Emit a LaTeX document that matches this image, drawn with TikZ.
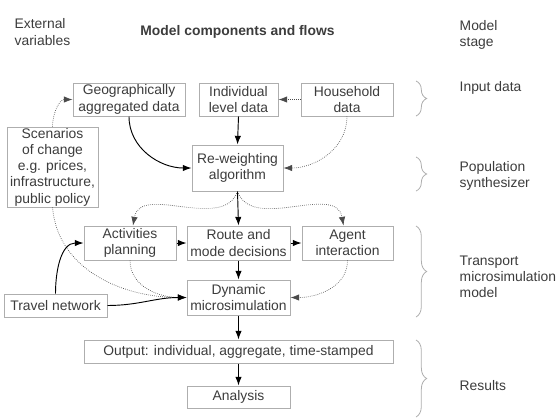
\documentclass[tikz,border=0pt]{standalone}
\usepackage{fontspec}
\setmainfont{Liberation Sans}
\usetikzlibrary{arrows.meta,decorations.pathreplacing}
\definecolor{txtgray}{HTML}{3C3C3C}
\definecolor{boxgray}{HTML}{AEAEAE}
\definecolor{dotgray}{HTML}{4A4A4A}

\begin{document}
\begin{tikzpicture}[x=0.75pt, y=-0.75pt,
  font=\fontsize{10.4}{12.2}\selectfont, text=txtgray,
  box/.style={draw=boxgray, line width=0.75pt, align=center, inner sep=0pt},
  flow/.style={-{Latex[length=6.5pt,width=4.8pt]}, line width=0.7pt, black},
  dflow/.style={-{Latex[length=6.5pt,width=4.8pt]}, densely dotted, line width=0.5pt, dotgray},
  stagebrace/.style={decorate, decoration={brace, amplitude=8pt}, draw=boxgray, line width=0.6pt}]
\useasboundingbox (0, 0) rectangle (558, 419);
% column headings
\node [anchor = west, align = left] (extvar) at (10, 32) {External\\variables};
\node (title) at (237.5, 32) {\textbf{Model components and flows}};
\node [anchor = west, align = left] (stagehead) at (455, 35) {Model\\stage};
% input data
\node [box, minimum width = 84pt, minimum height = 24.75pt] (geo) at (129, 99.5) {Geographically\\aggregated data};
\node [box, minimum width = 59.25pt, minimum height = 24.75pt] (indiv) at (238.5, 99.5) {Individual\\level data};
\node [box, minimum width = 69pt, minimum height = 24.75pt] (house) at (347, 99.5) {Household\\data};
\node [box, minimum width = 68.25pt, minimum height = 60pt] (scen) at (52.5, 167) {Scenarios\\of change\\e.g. prices,\\infrastructure,\\public policy};
% population synthesizer
\node [box, minimum width = 68.25pt, minimum height = 34.5pt] (rew) at (237.5, 168) {Re-weighting\\algorithm};
% transport microsimulation
\node [box, minimum width = 69pt, minimum height = 25.5pt] (activ) at (130, 243) {Activities\\planning};
\node [box, minimum width = 77.25pt, minimum height = 25.5pt] (route) at (238.5, 243) {Route and\\mode decisions};
\node [box, minimum width = 68.25pt, minimum height = 25.5pt] (agent) at (347.5, 243) {Agent\\interaction};
\node [box, minimum width = 77.25pt, minimum height = 17.25pt] (travel) at (55.5, 305.5) {Travel network};
\node [box, minimum width = 77.25pt, minimum height = 26.25pt] (dyn) at (238.5, 297.5) {Dynamic\\microsimulation};
% results
\node [box, minimum width = 231.75pt, minimum height = 17.25pt] (output) at (238.5, 351.5) {Output: individual, aggregate, time-stamped};
\node [box, minimum width = 77.25pt, minimum height = 16.5pt] (analysis) at (238.5, 397) {Analysis};
% model stages
\draw [stagebrace] (416, 81) -- (416, 116);
\node [anchor = west] (stinput) at (455, 88) {Input data};
\draw [stagebrace] (416, 157) -- (416, 191);
\node [anchor = west, align = left] (stpop) at (455, 176) {Population\\synthesizer};
\draw [stagebrace] (416, 226) -- (416, 317);
\node [anchor = west, align = left] (sttrans) at (455, 277) {Transport\\microsimulation\\model};
\draw [stagebrace] (416, 340) -- (416, 417);
\node [anchor = west] (stres) at (455, 386) {Results};
% flows
\draw [dflow] (house.west) -- (indiv.east);
\draw [flow] (indiv.south) -- (rew.north);
\draw [flow] (geo.south) to [out = -90, in = 180] (rew.west);
\draw [dflow] (house.south) to [out = -90, in = 0] (rew.east);
\draw [dflow] (scen.north) to [out = 90, in = 180] (geo.west);
\draw [dflow] (rew.south) to [out = -110, in = 80] ([xshift = 2.25pt] activ.north);
\draw [flow] (rew.south) -- (route.north);
\draw [dflow] (rew.south) to [out = -70, in = 100] ([xshift = -3pt] agent.north);
\draw [flow] (activ.east) -- (route.west);
\draw [flow] (route.east) -- (agent.west);
\draw [flow] (route.south) -- (dyn.north);
\draw [dflow] (activ.south) to [out = -90, in = 180] (dyn.west);
\draw [dflow] (agent.south) to [out = -90, in = 0] (dyn.east);
\draw [dflow] (scen.south) to [out = -85, in = 180] (dyn.west);
\draw [flow] (travel.north) to [out = 90, in = 180] (activ.west);
\draw [flow] (travel.east) to [out = 0, in = 180] (dyn.west);
\draw [flow] (dyn.south) -- (output.north);
\draw [flow] (output.south) -- (analysis.north);
\end{tikzpicture}
\end{document}
